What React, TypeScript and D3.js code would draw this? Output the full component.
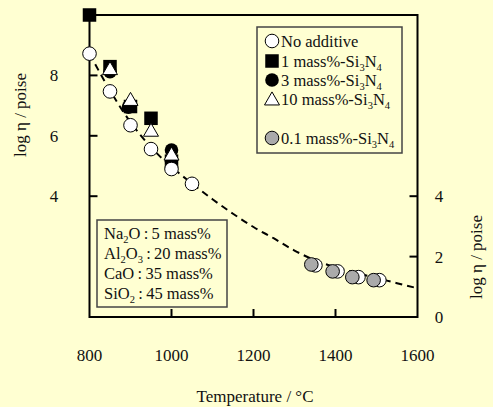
import React from "react";
import * as d3 from "d3";

const W = 493;
const H = 407;

// Data
const noAdditive: [number, number][] = [
  [800, 8.72], [850, 7.47], [900, 6.35], [950, 5.56], [1000, 4.9], [1050, 4.41],
  [1351, 1.71], [1405, 1.51], [1456, 1.32], [1507, 1.22],
];
const si1: [number, number][] = [
  [800, 10.0], [850, 8.29], [900, 6.97], [950, 6.58], [1000, 5.16],
];
const si3: [number, number][] = [
  [850, 8.12], [895, 6.95], [1000, 5.53],
];
const si10: [number, number][] = [
  [850, 8.19], [900, 7.17], [950, 6.15], [1000, 5.36],
];
const si01: [number, number][] = [
  [1341, 1.74], [1393, 1.51], [1441, 1.32], [1493, 1.22],
];
const fitCurve: [number, number][] = [
  [800, 8.72], [850, 7.5], [900, 6.45], [950, 5.62], [1000, 4.97], [1050, 4.42],
  [1100, 3.9], [1150, 3.42], [1200, 2.98], [1250, 2.6], [1300, 2.2], [1350, 1.88],
  [1400, 1.65], [1450, 1.46], [1500, 1.29], [1550, 1.12], [1600, 0.95],
];
const xTicks = [800, 1000, 1200, 1400, 1600];
const xInnerTicks = [1000, 1200, 1400];
const leftTicks = [4, 6, 8];
const rightTicks = [0, 2, 4];

// segments: [text, isSubscript]
const legendLabels: [string, boolean][][] = [
  [["No additive", false]],
  [["1 mass%-Si", false], ["3", true], ["N", false], ["4", true]],
  [["3 mass%-Si", false], ["3", true], ["N", false], ["4", true]],
  [["10 mass%-Si", false], ["3", true], ["N", false], ["4", true]],
  [["0.1 mass%-Si", false], ["3", true], ["N", false], ["4", true]],
];
const compositionLabels: [string, boolean][][] = [
  [["Na", false], ["2", true], ["O\u2009:\u20095 mass%", false]],
  [["Al", false], ["2", true], ["O", false], ["3", true], ["\u2009:\u200920 mass%", false]],
  [["CaO\u2009:\u200935 mass%", false]],
  [["SiO", false], ["2", true], ["\u2009:\u200945 mass%", false]],
];

const BG = "#FFFFD2";
const FONT = "'Liberation Serif', 'Times New Roman', serif";

function RichText({ x, y, segs }: { x: number; y: number; segs: [string, boolean][] }) {
  let prevSub = false;
  return (
    <text x={x} y={y}>
      {segs.map(([t, isSub], i) => {
        const dy = isSub === prevSub ? 0 : isSub ? 3.5 : -3.5;
        prevSub = isSub;
        return (
          <tspan key={i} dy={dy} fontSize={isSub ? 10.5 : undefined}>
            {t}
          </tspan>
        );
      })}
    </text>
  );
}

export default function App() {
  const x = d3.scaleLinear().domain([800, 1600]).range([89.5, 417.5]);
  const y = d3.scaleLinear().domain([0, 10]).range([317, 15]);
  const line = d3
    .line<[number, number]>()
    .x((d) => x(d[0]))
    .y((d) => y(d[1]))
    .curve(d3.curveMonotoneX);

  const R = 6.8;
  const S = 13.5;
  const tri = (cx: number, cy: number, s: number) => {
    const h = s * 0.87;
    return `M${cx},${cy - h * 0.62} L${cx + s / 2},${cy + h * 0.38} L${cx - s / 2},${cy + h * 0.38} Z`;
  };

  const legendX = 272;
  const legendRows = [41, 61, 80, 99, 138];
  const compRows = [239, 259, 279, 299];

  return (
    <svg
      width={W}
      height={H}
      style={{ position: "absolute", left: 0, top: 0, background: BG }}
      fontFamily={FONT}
    >
      <rect x={0} y={0} width={W} height={H} fill={BG} />
      {/* dashed fit curve */}
      <path
        d={line(fitCurve) || ""}
        fill="none"
        stroke="#000"
        strokeWidth={2}
        strokeDasharray="7,5"
      />
      {/* frame */}
      <path
        d={`M${x(800)},${y(0)} L${x(800)},${y(10)} L${x(1600)},${y(10)} L${x(1600)},${y(0)} Z`}
        fill="none"
        stroke="#000"
        strokeWidth={2}
      />
      {xInnerTicks.map((t) => (
        <line key={t} x1={x(t)} x2={x(t)} y1={y(0)} y2={y(0) - 8} stroke="#000" strokeWidth={2} />
      ))}
      {leftTicks.map((t) => (
        <line key={t} x1={x(800)} x2={x(800) + 8} y1={y(t)} y2={y(t)} stroke="#000" strokeWidth={2} />
      ))}
      {rightTicks.filter((t) => t > 0).map((t) => (
        <line key={t} x1={x(1600)} x2={x(1600) - 8} y1={y(t)} y2={y(t)} stroke="#000" strokeWidth={2} />
      ))}
      {/* tick labels */}
      {xTicks.map((t) => (
        <text key={t} x={x(t)} y={361} textAnchor="middle" fontSize={17} fill="#111">
          {t}
        </text>
      ))}
      {leftTicks.map((t) => (
        <text key={t} x={54} y={y(t) + 6} textAnchor="middle" fontSize={17} fill="#111">
          {t}
        </text>
      ))}
      {rightTicks.map((t) => (
        <text key={t} x={439} y={y(t) + 6} textAnchor="middle" fontSize={17} fill="#111">
          {t}
        </text>
      ))}
      {/* axis titles */}
      <text x={255} y={402} textAnchor="middle" fontSize={17} fill="#111">
        Temperature / °C
      </text>
      <text
        transform={`translate(26,115) rotate(-90)`}
        textAnchor="middle"
        fontSize={17}
        fill="#111"
      >
        log η / poise
      </text>
      <text
        transform={`translate(482,257) rotate(-90)`}
        textAnchor="middle"
        fontSize={17}
        fill="#111"
      >
        log η / poise
      </text>

      {/* markers */}
      {si1.map((d, i) => (
        <rect
          key={"s" + i}
          x={x(d[0]) - S / 2}
          y={y(d[1]) - S / 2}
          width={S}
          height={S}
          fill="#000"
        />
      ))}
      {si3.map((d, i) => (
        <circle key={"c" + i} cx={x(d[0])} cy={y(d[1])} r={R} fill="#000" />
      ))}
      {si10.map((d, i) => (
        <path key={"t" + i} d={tri(x(d[0]), y(d[1]), 15)} fill="#fff" stroke="#000" strokeWidth={1} />
      ))}
      {noAdditive.map((d, i) => (
        <circle key={"w" + i} cx={x(d[0])} cy={y(d[1])} r={R} fill="#fff" stroke="#000" strokeWidth={1} />
      ))}
      {si01.map((d, i) => (
        <circle key={"g" + i} cx={x(d[0])} cy={y(d[1])} r={R} fill="#aaaaaa" stroke="#000" strokeWidth={1} />
      ))}

      {/* legend */}
      <rect x={257} y={27} width={145} height={126} fill={BG} stroke="#444" strokeWidth={1.5} />
      <circle cx={legendX} cy={legendRows[0]} r={R} fill="#fff" stroke="#000" strokeWidth={1} />
      <rect x={legendX - S / 2} y={legendRows[1] - S / 2} width={S} height={S} fill="#000" />
      <circle cx={legendX} cy={legendRows[2]} r={R} fill="#000" />
      <path d={tri(legendX, legendRows[3] + 1, 15)} fill="#fff" stroke="#000" strokeWidth={1} />
      <circle cx={legendX} cy={legendRows[4]} r={R} fill="#aaaaaa" stroke="#000" strokeWidth={1} />
      <g fontSize={16.5} fill="#111">
        {legendLabels.map((segs, i) => (
          <RichText key={i} x={281} y={legendRows[i] + 6} segs={segs} />
        ))}
      </g>

      {/* composition box */}
      <rect x={97} y={220} width={130} height={87} fill={BG} stroke="#444" strokeWidth={1.5} />
      <g fontSize={16.5} fill="#111">
        {compositionLabels.map((segs, i) => (
          <RichText key={i} x={104} y={compRows[i]} segs={segs} />
        ))}
      </g>
    </svg>
  );
}
